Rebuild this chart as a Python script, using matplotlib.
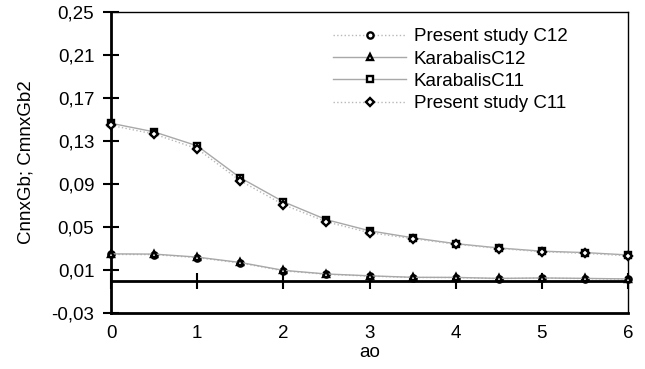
import numpy as np
import matplotlib
matplotlib.use("Agg")
import matplotlib.pyplot as plt
from matplotlib.ticker import FuncFormatter

plt.rcParams['font.family'] = ['Liberation Sans', 'DejaVu Sans']

ao = [0, 0.5, 1, 1.5, 2, 2.5, 3, 3.5, 4, 4.5, 5, 5.5, 6]
present_c12 = [0.0245, 0.0243, 0.0215, 0.0165, 0.0092, 0.0060, 0.0043, 0.0030, 0.0030, 0.0020, 0.0025, 0.0020, 0.0015]
karabalis_c12 = [0.0250, 0.0248, 0.0220, 0.0170, 0.0097, 0.0063, 0.0046, 0.0032, 0.0031, 0.0022, 0.0026, 0.0022, 0.0017]
karabalis_c11 = [0.1465, 0.1385, 0.1255, 0.0958, 0.0735, 0.0568, 0.0465, 0.0400, 0.0345, 0.0305, 0.0275, 0.0262, 0.0240]
present_c11 = [0.1445, 0.1365, 0.1228, 0.0930, 0.0708, 0.0548, 0.0447, 0.0392, 0.0340, 0.0300, 0.0270, 0.0255, 0.0232]

labels = ['Present study C12', 'KarabalisC12', 'KarabalisC11', 'Present study C11']
yticks = [-0.03, 0.01, 0.05, 0.09, 0.13, 0.17, 0.21, 0.25]
xticks = [0, 1, 2, 3, 4, 5, 6]

FS = 13.5

fig = plt.figure(figsize=(6.45, 3.69), dpi=100)
ax = fig.add_axes([111/645, 1-313/369, (628-111)/645, (313-12)/369])

series = [
    (present_c12, 'o', ':', '#b8b8b8'),
    (karabalis_c12, '^', '-', '#a8a8a8'),
    (karabalis_c11, 's', '-', '#a8a8a8'),
    (present_c11, 'D', ':', '#b8b8b8'),
]
for (vals, m, ls, c), lab in zip(series, labels):
    ax.plot(ao, vals, linestyle=ls, color=c, lw=1.0, marker=m,
            markersize=4.5 if m != 'D' else 4.0, markerfacecolor='white',
            markeredgecolor='black', markeredgewidth=1.7, label=lab,
            clip_on=False, zorder=3)

ax.set_xlim(0, 6)
ax.set_ylim(-0.03, 0.25)
ax.set_yticks(yticks)
ax.yaxis.set_major_formatter(FuncFormatter(lambda v, p: f"{v:.2f}".replace('.', ',')))
ax.tick_params(axis='y', direction='inout', length=12, width=1.5, labelsize=FS, pad=6)
ax.set_xticks(xticks)
ax.tick_params(axis='x', length=0, labelsize=FS, pad=9)

ax.spines['left'].set_linewidth(2)
ax.spines['bottom'].set_linewidth(2)
ax.spines['top'].set_linewidth(1)
ax.spines['right'].set_linewidth(1)

zero_pos = (0 - (-0.03)) / (0.25 - (-0.03))
sec = ax.secondary_xaxis(zero_pos)
sec.set_xticks(xticks)
sec.tick_params(direction='inout', length=12, width=1.5, labelbottom=False, labeltop=False)
sec.spines['bottom'].set_linewidth(2)

ax.set_xlabel('ao', fontsize=FS, labelpad=1)
ax.set_ylabel('CnnxGb; CmnxGb2', fontsize=FS, labelpad=12)

leg = ax.legend(loc='upper left', bbox_to_anchor=((333-111)/517, 1 - (28-12)/301),
                frameon=False, fontsize=FS, handlelength=3.9, handletextpad=0.4,
                labelspacing=0.28, borderpad=0, borderaxespad=0)

fig.savefig('out.png', dpi=100)
